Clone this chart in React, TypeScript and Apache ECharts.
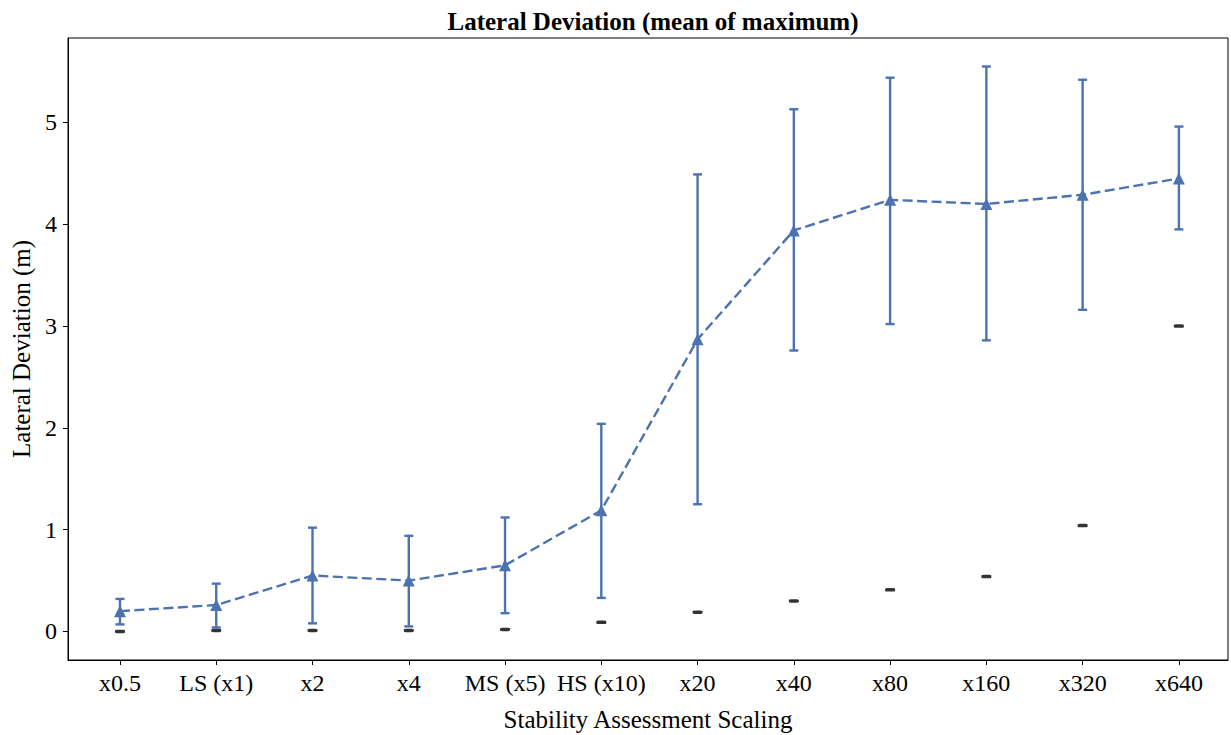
import React, { useEffect, useRef } from "react";
import * as echarts from "echarts";

const categories = ["x0.5", "LS (x1)", "x2", "x4", "MS (x5)", "HS (x10)", "x20", "x40", "x80", "x160", "x320", "x640"];
const meanValues = [0.20, 0.26, 0.55, 0.50, 0.65, 1.19, 2.87, 3.94, 4.24, 4.20, 4.29, 4.45];
const upperValues = [0.32, 0.47, 1.02, 0.94, 1.12, 2.04, 4.49, 5.13, 5.44, 5.55, 5.42, 4.96];
const lowerValues = [0.07, 0.04, 0.08, 0.05, 0.18, 0.33, 1.25, 2.76, 3.02, 2.86, 3.16, 3.95];
const minValues = [0.0, 0.01, 0.01, 0.01, 0.02, 0.09, 0.19, 0.30, 0.41, 0.54, 1.04, 3.0];
const yTicks = [0, 1, 2, 3, 4, 5];

const BLUE = "#4C72B0";
const FONT = "'Liberation Serif', 'Times New Roman', serif";

export default function App() {
  const ref = useRef<HTMLDivElement>(null);
  useEffect(() => {
    if (!ref.current) return;
    const chart = echarts.init(ref.current, null, { renderer: "svg" });
    const xIdx = categories.map((_, i) => i);
    chart.setOption({
      animation: false,
      backgroundColor: "#fff",
      title: {
        text: "Lateral Deviation (mean of maximum)",
        left: 648,
        top: 4,
        textAlign: "center",
        textStyle: { fontFamily: FONT, fontWeight: "bold", fontSize: 25, color: "#000" },
      },
      grid: {
        left: 68, right: 3, top: 38, bottom: 75,
        outerBoundsMode: "none",
        containLabel: false,
        show: true, borderColor: "#000", borderWidth: 1, backgroundColor: "transparent",
      },
      xAxis: {
        type: "value",
        min: -0.54,
        max: 11.51,
        name: "Stability Assessment Scaling",
        nameLocation: "middle",
        nameGap: 47,
        nameTextStyle: { fontFamily: FONT, fontSize: 25, color: "#000" },
        splitLine: { show: false },
        axisLine: { show: true, onZero: false, lineStyle: { color: "#000", width: 1 } },
        axisTick: { show: true, length: 5, lineStyle: { color: "#000" }, customValues: xIdx },
        axisLabel: {
          fontFamily: FONT, fontSize: 24, color: "#000", margin: 11,
          customValues: xIdx,
          formatter: (v: number) => categories[Math.round(v)] ?? "",
        },
      },
      yAxis: {
        type: "value",
        min: -0.28,
        max: 5.83,
        name: "Lateral Deviation (m)",
        nameLocation: "middle",
        nameGap: 34,
        nameTextStyle: { fontFamily: FONT, fontSize: 25, color: "#000" },
        splitLine: { show: false },
        axisLine: { show: true, onZero: false, lineStyle: { color: "#000", width: 1 } },
        axisTick: { show: true, length: 5, lineStyle: { color: "#000" }, customValues: yTicks },
        axisLabel: { fontFamily: FONT, fontSize: 24, color: "#000", margin: 11, customValues: yTicks },
      },
      series: [
        {
          type: "custom",
          name: "err",
          data: xIdx.map((i) => [i, lowerValues[i], upperValues[i]]),
          renderItem: (params: any, api: any) => {
            const x = api.value(0);
            const lo = api.coord([x, api.value(1)]);
            const hi = api.coord([x, api.value(2)]);
            const cw = 4.5;
            const style = { stroke: BLUE, lineWidth: 2.4 };
            return {
              type: "group",
              children: [
                { type: "line", shape: { x1: lo[0], y1: lo[1], x2: hi[0], y2: hi[1] }, style },
                { type: "line", shape: { x1: lo[0] - cw, y1: lo[1], x2: lo[0] + cw, y2: lo[1] }, style },
                { type: "line", shape: { x1: hi[0] - cw, y1: hi[1], x2: hi[0] + cw, y2: hi[1] }, style },
              ],
            };
          },
          z: 2,
        },
        {
          type: "line",
          name: "mean",
          data: xIdx.map((i) => [i, meanValues[i]]),
          smooth: false,
          symbol: "triangle",
          symbolSize: 12,
          itemStyle: { color: BLUE },
          lineStyle: { color: BLUE, width: 2.4, type: [10, 4.5] },
          z: 3,
        },
        {
          type: "scatter",
          name: "min",
          data: xIdx.map((i) => [i, minValues[i]]),
          symbol: "roundRect",
          symbolSize: [10, 3.5],
          itemStyle: { color: "#000" },
          z: 4,
        },
      ],
    });
    return () => chart.dispose();
  }, []);
  return <div ref={ref} style={{ position: "absolute", left: 0, top: 0, width: 1231, height: 735 }} />;
}
